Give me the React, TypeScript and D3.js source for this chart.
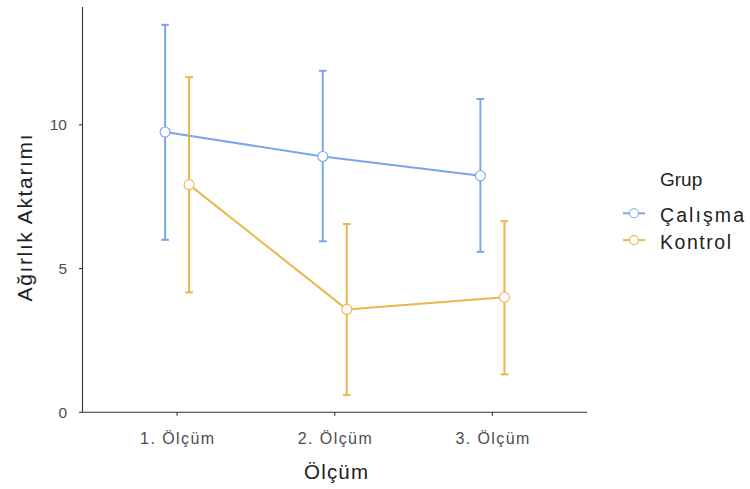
import React from "react";
import * as d3 from "d3";

const categories = ["1. Ölçüm", "2. Ölçüm", "3. Ölçüm"];
const groups = ["Çalışma", "Kontrol"];
const colors = ["#7aa6ea", "#ebb64c"];
const calismaMean = [9.75, 8.9, 8.23];
const calismaLow = [6.0, 5.95, 5.58];
const calismaHigh = [13.48, 11.88, 10.9];
const kontrolMean = [7.92, 3.58, 4.0];
const kontrolLow = [4.17, 0.6, 1.32];
const kontrolHigh = [11.66, 6.55, 6.65];
const yTicks = [0, 5, 10];

const series = [
  { name: groups[0], mean: calismaMean, low: calismaLow, high: calismaHigh, color: colors[0], dodge: -12 },
  { name: groups[1], mean: kontrolMean, low: kontrolLow, high: kontrolHigh, color: colors[1], dodge: 12 },
];

export default function App() {
  const W = 750, H = 489;
  const left = 82.5, right = 587, top = 7, bottom = 412.3;
  const x = d3.scaleLinear().domain([0.4, 3.6]).range([left, right]);
  const y = d3.scaleLinear().domain([0, 14.1]).range([bottom, top]);
  const font = "'Liberation Sans', Arial, sans-serif";
  const legendW = [84, 71];
  return (
    <svg width={W} height={H} style={{ position: "absolute", left: 0, top: 0, background: "#fff" }} fontFamily={font}>
      {/* axes */}
      <line x1={left} x2={left} y1={top} y2={bottom} stroke="#333" strokeWidth={1.1} />
      <line x1={left} x2={right} y1={bottom} y2={bottom} stroke="#333" strokeWidth={1.1} />
      {yTicks.map((t) => (
        <g key={t}>
          <line x1={left - 3.5} x2={left} y1={y(t)} y2={y(t)} stroke="#333" strokeWidth={1.1} />
          <text x={left - 15.5} y={y(t)} dy="0.36em" textAnchor="end" fontSize={15.5} fill="#4d4d4d">{t}</text>
        </g>
      ))}
      {categories.map((c, i) => (
        <g key={c}>
          <line x1={x(i + 1)} x2={x(i + 1)} y1={bottom} y2={bottom + 3.5} stroke="#333" strokeWidth={1.1} />
          <text x={x(i + 1) - 37} y={444} fontSize={16} fill="#4d4d4d" textLength={74} lengthAdjust="spacing">{c}</text>
        </g>
      ))}
      <text x={304} y={478.5} fontSize={20.5} fill="#222" textLength={64} lengthAdjust="spacing">Ölçüm</text>
      <text transform={`translate(32,${301.5}) rotate(-90)`} fontSize={21} fill="#222" textLength={167} lengthAdjust="spacing">Ağırlık Aktarımı</text>
      {/* series */}
      {series.map((s) => {
        const line = d3.line<number>().x((_, i) => x(i + 1) + s.dodge).y((d) => y(d));
        return (
          <g key={s.name}>
            {s.mean.map((m, i) => {
              const cx = x(i + 1) + s.dodge;
              return (
                <g key={i} stroke={s.color} strokeWidth={2}>
                  <line x1={cx} x2={cx} y1={y(s.low[i])} y2={y(s.high[i])} />
                  <line x1={cx - 3.8} x2={cx + 3.8} y1={y(s.low[i])} y2={y(s.low[i])} />
                  <line x1={cx - 3.8} x2={cx + 3.8} y1={y(s.high[i])} y2={y(s.high[i])} />
                </g>
              );
            })}
            <path d={line(s.mean) || ""} fill="none" stroke={s.color} strokeWidth={2} />
            {s.mean.map((m, i) => (
              <circle key={i} cx={x(i + 1) + s.dodge} cy={y(m)} r={5} fill="#fff" stroke={s.color} strokeWidth={1.1} />
            ))}
          </g>
        );
      })}
      {/* legend */}
      <text x={660} y={185.7} fontSize={19} fill="#222">Grup</text>
      {series.map((s, i) => {
        const ly = 213.3 + i * 26.8;
        return (
          <g key={s.name}>
            <line x1={623} x2={645} y1={ly} y2={ly} stroke={s.color} strokeWidth={2} />
            <circle cx={634} cy={ly} r={4.5} fill="#fff" stroke={s.color} strokeWidth={1.1} />
            <text x={660} y={ly + 8.5} fontSize={19.5} fill="#222" textLength={legendW[i]} lengthAdjust="spacing">{s.name}</text>
          </g>
        );
      })}
    </svg>
  );
}
